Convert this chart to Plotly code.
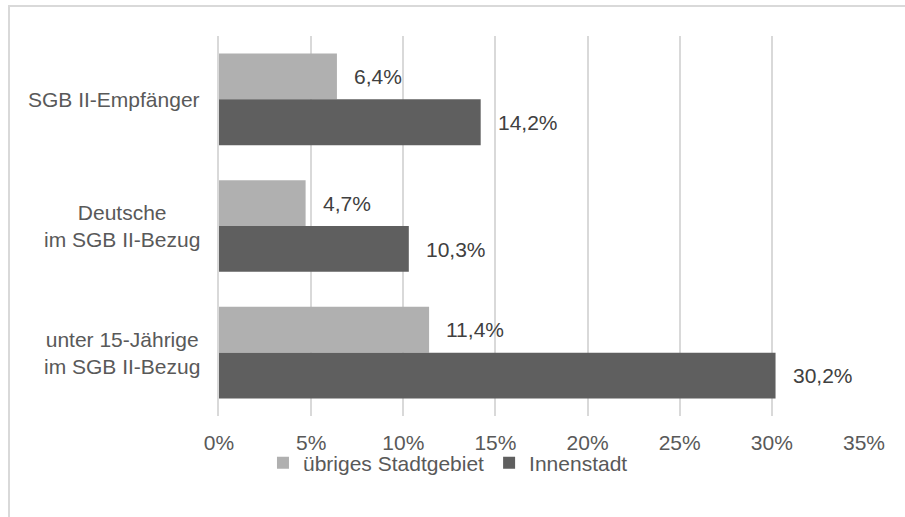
import plotly.graph_objects as go

categories = ["SGB II-Empfänger", "Deutsche<br>im SGB II-Bezug", "unter 15-Jährige<br>im SGB II-Bezug"]
series_names = ["übriges Stadtgebiet", "Innenstadt"]
uebriges = [6.4, 4.7, 11.4]
innenstadt = [14.2, 10.3, 30.2]
x_ticks = [0, 5, 10, 15, 20, 25, 30, 35]
x_tick_labels = ["0%", "5%", "10%", "15%", "20%", "25%", "30%", "35%"]

LIGHT = "#B0B0B0"
DARK = "#5F5F5F"
FONT = "Liberation Sans, Arial, sans-serif"
FS = 21

fig = go.Figure()
fig.add_trace(go.Bar(y=categories, x=uebriges, orientation="h", name=series_names[0],
                     marker=dict(color=LIGHT, line=dict(width=0))))
fig.add_trace(go.Bar(y=categories, x=innenstadt, orientation="h", name=series_names[1],
                     marker=dict(color=DARK, line=dict(width=0))))

def fmt(v):
    return f"{v:.1f}".replace(".", ",") + "%"

annotations = []
for cat, u, i in zip(categories, uebriges, innenstadt):
    annotations.append(dict(x=u, y=cat, xref="x", yref="y", text=fmt(u), showarrow=False,
                            xanchor="left", yanchor="middle", xshift=15, yshift=23,
                            font=dict(size=FS, color="#404040", family=FONT)))
    annotations.append(dict(x=i, y=cat, xref="x", yref="y", text=fmt(i), showarrow=False,
                            xanchor="left", yanchor="middle", xshift=15, yshift=-23,
                            font=dict(size=FS, color="#404040", family=FONT)))
    annotations.append(dict(x=0, y=cat, xref="paper", yref="y", text=cat, showarrow=False,
                            xanchor="right", yanchor="middle", align="center", xshift=-17,
                            font=dict(size=FS, color="#595959", family=FONT)))

fig.update_layout(
    width=905, height=517,
    margin=dict(l=219, r=41, t=36, b=101, autoexpand=False),
    paper_bgcolor="white", plot_bgcolor="white",
    barmode="group", bargap=0.276, bargroupgap=0,
    font=dict(family=FONT, size=FS, color="#595959"),
    xaxis=dict(range=[0, 35], tickvals=x_ticks, ticktext=x_tick_labels,
               showgrid=True, gridcolor="#D9D9D9", gridwidth=1.5,
               zeroline=False, showline=False, automargin=False,
               ticks="outside", ticklen=8, tickcolor="rgba(0,0,0,0)", tickwidth=1,
               tickfont=dict(size=FS, color="#595959"), fixedrange=True),
    yaxis=dict(autorange="reversed", showticklabels=False, showgrid=False, automargin=False,
               zeroline=False, showline=True, linecolor="#D9D9D9", linewidth=1.5, ticks="",
               fixedrange=True),
    legend=dict(orientation="h", xref="paper", yref="paper", x=0.355, y=-0.124,
                xanchor="center", yanchor="middle", bgcolor="rgba(0,0,0,0)",
                font=dict(size=FS, color="#595959"), itemwidth=30),
    annotations=annotations,
    shapes=[dict(type="rect", xref="paper", yref="paper", x0=-0.3256, x1=1.2, y0=-0.5, y1=1.079,
                 line=dict(color="#D9D9D9", width=2), fillcolor="rgba(0,0,0,0)", layer="below")],
)

fig.write_html("out.html", config={"displayModeBar": False},
               post_script="document.body.style.margin='0';document.body.style.overflow='hidden';")
